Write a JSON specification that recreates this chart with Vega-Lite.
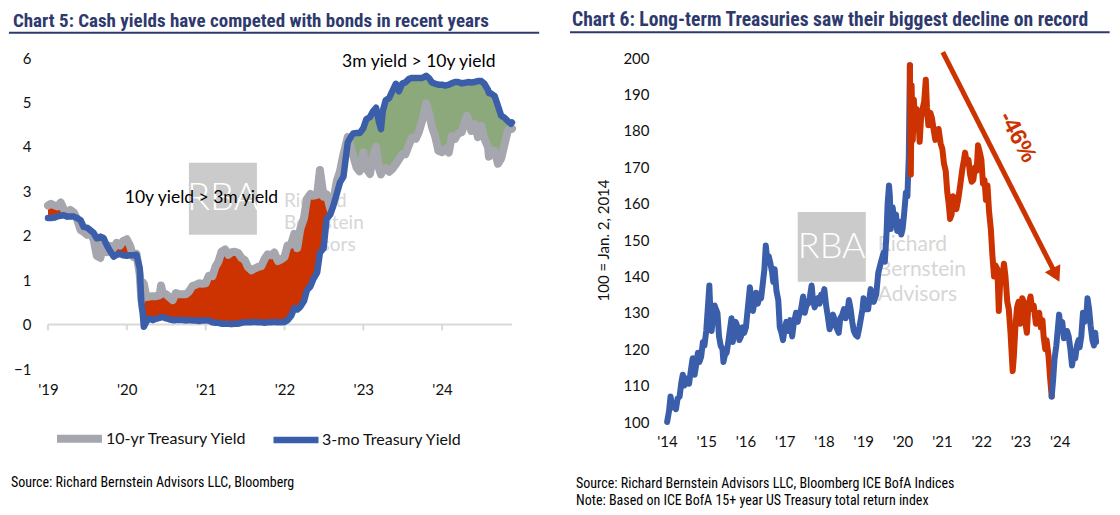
{
  "$schema": "https://vega.github.io/schema/vega-lite/v6.json",
  "background": "white",
  "padding": {"left": 7, "top": 9, "right": 0, "bottom": 0},
  "spacing": 28,
  "resolve": {"scale": {"color": "independent", "strokeWidth": "independent", "x": "independent", "y": "independent"}, "legend": {"color": "independent"}, "axis": {"x": "independent", "y": "independent"}},
  "config": {
    "view": {"stroke": null},
    "font": "Lato",
    "axis": {"grid": false, "ticks": false, "domain": false, "labelFont": "Lato", "labelFontSize": 15, "labelColor": "#111111", "labelOverlap": false},
    "title": {"font": "'Liberation Sans Narrow', 'Arial Narrow', 'Roboto Condensed', 'DejaVu Sans Condensed', 'Liberation Sans', sans-serif", "anchor": "start", "frame": "bounds"}
  },
  "datasets": {
    "yields": [
      {"d":"2019-01-01","t10":2.68,"t3m":2.40},{"d":"2019-01-15","t10":2.72,"t3m":2.40},{"d":"2019-02-01","t10":2.68,"t3m":2.41},{"d":"2019-02-15","t10":2.66,"t3m":2.44},
      {"d":"2019-03-01","t10":2.75,"t3m":2.45},{"d":"2019-03-15","t10":2.60,"t3m":2.46},{"d":"2019-04-01","t10":2.45,"t3m":2.43},{"d":"2019-04-15","t10":2.58,"t3m":2.43},
      {"d":"2019-05-01","t10":2.52,"t3m":2.43},{"d":"2019-05-15","t10":2.38,"t3m":2.40},{"d":"2019-06-01","t10":2.13,"t3m":2.35},{"d":"2019-06-15","t10":2.09,"t3m":2.20},
      {"d":"2019-07-01","t10":2.02,"t3m":2.18},{"d":"2019-07-15","t10":2.09,"t3m":2.13},{"d":"2019-08-01","t10":1.90,"t3m":2.06},{"d":"2019-08-15","t10":1.55,"t3m":1.94},
      {"d":"2019-09-01","t10":1.50,"t3m":1.98},{"d":"2019-09-15","t10":1.89,"t3m":1.95},{"d":"2019-10-01","t10":1.63,"t3m":1.78},{"d":"2019-10-15","t10":1.77,"t3m":1.66},
      {"d":"2019-11-01","t10":1.72,"t3m":1.53},{"d":"2019-11-15","t10":1.84,"t3m":1.57},{"d":"2019-12-01","t10":1.78,"t3m":1.59},{"d":"2019-12-15","t10":1.88,"t3m":1.56},
      {"d":"2020-01-01","t10":1.92,"t3m":1.55},{"d":"2020-01-15","t10":1.79,"t3m":1.56},{"d":"2020-02-01","t10":1.52,"t3m":1.56},{"d":"2020-02-15","t10":1.59,"t3m":1.57},
      {"d":"2020-03-01","t10":1.13,"t3m":1.27},{"d":"2020-03-09","t10":0.54,"t3m":0.45},{"d":"2020-03-15","t10":0.95,"t3m":0.25},{"d":"2020-03-20","t10":0.92,"t3m":-0.05},
      {"d":"2020-04-01","t10":0.62,"t3m":0.07},{"d":"2020-04-15","t10":0.63,"t3m":0.14},{"d":"2020-05-01","t10":0.64,"t3m":0.10},{"d":"2020-05-15","t10":0.64,"t3m":0.13},
      {"d":"2020-06-01","t10":0.66,"t3m":0.15},{"d":"2020-06-08","t10":0.88,"t3m":0.16},{"d":"2020-06-15","t10":0.72,"t3m":0.17},{"d":"2020-07-01","t10":0.68,"t3m":0.14},
      {"d":"2020-07-15","t10":0.62,"t3m":0.12},{"d":"2020-08-01","t10":0.55,"t3m":0.10},{"d":"2020-08-15","t10":0.71,"t3m":0.10},{"d":"2020-09-01","t10":0.68,"t3m":0.11},
      {"d":"2020-09-15","t10":0.68,"t3m":0.10},{"d":"2020-10-01","t10":0.68,"t3m":0.09},{"d":"2020-10-15","t10":0.74,"t3m":0.10},{"d":"2020-11-01","t10":0.87,"t3m":0.09},
      {"d":"2020-11-15","t10":0.89,"t3m":0.09},{"d":"2020-12-01","t10":0.93,"t3m":0.08},{"d":"2020-12-15","t10":0.92,"t3m":0.09},{"d":"2021-01-01","t10":0.93,"t3m":0.09},
      {"d":"2021-01-15","t10":1.10,"t3m":0.09},{"d":"2021-02-01","t10":1.09,"t3m":0.05},{"d":"2021-02-15","t10":1.30,"t3m":0.04},{"d":"2021-03-01","t10":1.42,"t3m":0.04},
      {"d":"2021-03-15","t10":1.64,"t3m":0.02},{"d":"2021-04-01","t10":1.69,"t3m":0.02},{"d":"2021-04-15","t10":1.57,"t3m":0.02},{"d":"2021-05-01","t10":1.63,"t3m":0.01},
      {"d":"2021-05-15","t10":1.64,"t3m":0.02},{"d":"2021-06-01","t10":1.61,"t3m":0.02},{"d":"2021-06-15","t10":1.50,"t3m":0.04},{"d":"2021-07-01","t10":1.45,"t3m":0.05},
      {"d":"2021-07-15","t10":1.30,"t3m":0.05},{"d":"2021-08-01","t10":1.22,"t3m":0.05},{"d":"2021-08-15","t10":1.26,"t3m":0.06},{"d":"2021-09-01","t10":1.30,"t3m":0.05},
      {"d":"2021-09-15","t10":1.31,"t3m":0.05},{"d":"2021-10-01","t10":1.48,"t3m":0.04},{"d":"2021-10-15","t10":1.58,"t3m":0.05},{"d":"2021-11-01","t10":1.56,"t3m":0.05},
      {"d":"2021-11-15","t10":1.62,"t3m":0.06},{"d":"2021-12-01","t10":1.43,"t3m":0.05},{"d":"2021-12-15","t10":1.46,"t3m":0.05},{"d":"2022-01-01","t10":1.52,"t3m":0.06},
      {"d":"2022-01-15","t10":1.78,"t3m":0.10},{"d":"2022-02-01","t10":1.80,"t3m":0.20},{"d":"2022-02-15","t10":2.04,"t3m":0.37},{"d":"2022-03-01","t10":1.72,"t3m":0.34},
      {"d":"2022-03-15","t10":2.15,"t3m":0.40},{"d":"2022-04-01","t10":2.39,"t3m":0.53},{"d":"2022-04-15","t10":2.83,"t3m":0.78},{"d":"2022-05-01","t10":2.94,"t3m":0.86},
      {"d":"2022-05-15","t10":2.90,"t3m":1.03},{"d":"2022-06-01","t10":2.92,"t3m":1.17},{"d":"2022-06-14","t10":3.48,"t3m":1.62},{"d":"2022-07-01","t10":2.88,"t3m":1.72},
      {"d":"2022-07-15","t10":2.93,"t3m":2.38},{"d":"2022-08-01","t10":2.60,"t3m":2.48},{"d":"2022-08-15","t10":2.79,"t3m":2.67},{"d":"2022-09-01","t10":3.25,"t3m":2.96},
      {"d":"2022-09-15","t10":3.45,"t3m":3.20},{"d":"2022-10-01","t10":3.83,"t3m":3.33},{"d":"2022-10-21","t10":4.22,"t3m":4.10},{"d":"2022-11-01","t10":4.05,"t3m":4.20},
      {"d":"2022-11-15","t10":3.80,"t3m":4.30},{"d":"2022-12-01","t10":3.53,"t3m":4.31},{"d":"2022-12-15","t10":3.45,"t3m":4.31},{"d":"2023-01-01","t10":3.88,"t3m":4.42},
      {"d":"2023-01-15","t10":3.51,"t3m":4.62},{"d":"2023-02-01","t10":3.39,"t3m":4.67},{"d":"2023-02-15","t10":3.80,"t3m":4.80},{"d":"2023-03-01","t10":4.00,"t3m":4.88},
      {"d":"2023-03-15","t10":3.51,"t3m":4.55},{"d":"2023-03-24","t10":3.38,"t3m":4.40},{"d":"2023-04-01","t10":3.48,"t3m":4.80},{"d":"2023-04-15","t10":3.52,"t3m":5.05},
      {"d":"2023-05-01","t10":3.44,"t3m":5.10},{"d":"2023-05-15","t10":3.50,"t3m":5.25},{"d":"2023-06-01","t10":3.61,"t3m":5.42},{"d":"2023-06-15","t10":3.72,"t3m":5.25},
      {"d":"2023-07-01","t10":3.84,"t3m":5.43},{"d":"2023-07-15","t10":3.83,"t3m":5.45},{"d":"2023-08-01","t10":4.05,"t3m":5.53},{"d":"2023-08-15","t10":4.21,"t3m":5.55},
      {"d":"2023-09-01","t10":4.18,"t3m":5.55},{"d":"2023-09-15","t10":4.33,"t3m":5.55},{"d":"2023-10-01","t10":4.59,"t3m":5.55},{"d":"2023-10-19","t10":4.98,"t3m":5.60},
      {"d":"2023-11-01","t10":4.77,"t3m":5.55},{"d":"2023-11-15","t10":4.45,"t3m":5.45},{"d":"2023-12-01","t10":4.22,"t3m":5.42},{"d":"2023-12-15","t10":3.91,"t3m":5.40},
      {"d":"2024-01-01","t10":3.88,"t3m":5.40},{"d":"2024-01-15","t10":3.96,"t3m":5.38},{"d":"2024-02-01","t10":3.87,"t3m":5.40},{"d":"2024-02-15","t10":4.24,"t3m":5.43},
      {"d":"2024-03-01","t10":4.18,"t3m":5.46},{"d":"2024-03-15","t10":4.30,"t3m":5.46},{"d":"2024-04-01","t10":4.33,"t3m":5.43},{"d":"2024-04-25","t10":4.70,"t3m":5.45},
      {"d":"2024-05-01","t10":4.63,"t3m":5.46},{"d":"2024-05-15","t10":4.36,"t3m":5.45},{"d":"2024-06-01","t10":4.51,"t3m":5.46},{"d":"2024-06-15","t10":4.22,"t3m":5.48},
      {"d":"2024-07-01","t10":4.47,"t3m":5.48},{"d":"2024-07-15","t10":4.19,"t3m":5.42},{"d":"2024-08-01","t10":3.99,"t3m":5.28},{"d":"2024-08-05","t10":3.78,"t3m":5.21},
      {"d":"2024-08-15","t10":3.92,"t3m":5.20},{"d":"2024-09-01","t10":3.91,"t3m":5.14},{"d":"2024-09-16","t10":3.62,"t3m":4.92},{"d":"2024-10-01","t10":3.74,"t3m":4.70},
      {"d":"2024-10-15","t10":4.03,"t3m":4.66},{"d":"2024-11-01","t10":4.37,"t3m":4.58},{"d":"2024-11-15","t10":4.43,"t3m":4.52},{"d":"2024-11-20","t10":4.41,"t3m":4.55}
    ],
    "tr": [
      {"d":"2014-01-02","v":100,"s":"a"},{"d":"2014-01-20","v":103,"s":"a"},{"d":"2014-02-03","v":107,"s":"a"},{"d":"2014-02-20","v":104,"s":"a"},
      {"d":"2014-03-10","v":105,"s":"a"},{"d":"2014-03-25","v":103.5,"s":"a"},{"d":"2014-04-10","v":106.5,"s":"a"},{"d":"2014-04-28","v":107,"s":"a"},
      {"d":"2014-05-15","v":111,"s":"a"},{"d":"2014-05-28","v":113,"s":"a"},{"d":"2014-06-10","v":110,"s":"a"},{"d":"2014-06-25","v":111.5,"s":"a"},
      {"d":"2014-07-10","v":112,"s":"a"},{"d":"2014-07-25","v":110.5,"s":"a"},{"d":"2014-08-10","v":114,"s":"a"},{"d":"2014-08-28","v":117.5,"s":"a"},
      {"d":"2014-09-15","v":113,"s":"a"},{"d":"2014-10-01","v":116,"s":"a"},{"d":"2014-10-15","v":119,"s":"a"},{"d":"2014-10-30","v":116.5,"s":"a"},
      {"d":"2014-11-15","v":118,"s":"a"},{"d":"2014-12-01","v":122,"s":"a"},{"d":"2014-12-15","v":121,"s":"a"},{"d":"2015-01-01","v":125,"s":"a"},
      {"d":"2015-01-15","v":131,"s":"a"},{"d":"2015-01-30","v":137.5,"s":"a"},{"d":"2015-02-10","v":129,"s":"a"},{"d":"2015-02-20","v":125,"s":"a"},
      {"d":"2015-03-05","v":129,"s":"a"},{"d":"2015-03-20","v":132,"s":"a"},{"d":"2015-04-01","v":131,"s":"a"},{"d":"2015-04-15","v":130,"s":"a"},
      {"d":"2015-04-30","v":123.5,"s":"a"},{"d":"2015-05-15","v":121,"s":"a"},{"d":"2015-06-01","v":120,"s":"a"},{"d":"2015-06-10","v":116.5,"s":"a"},
      {"d":"2015-06-25","v":118.5,"s":"a"},{"d":"2015-07-10","v":119,"s":"a"},{"d":"2015-07-25","v":122,"s":"a"},{"d":"2015-08-24","v":128.5,"s":"a"},
      {"d":"2015-09-05","v":122,"s":"a"},{"d":"2015-09-20","v":125.5,"s":"a"},{"d":"2015-10-02","v":127.5,"s":"a"},{"d":"2015-10-20","v":126,"s":"a"},
      {"d":"2015-11-05","v":122.5,"s":"a"},{"d":"2015-11-20","v":123.5,"s":"a"},{"d":"2015-12-05","v":126,"s":"a"},{"d":"2015-12-20","v":124.5,"s":"a"},
      {"d":"2016-01-05","v":126,"s":"a"},{"d":"2016-01-20","v":130.5,"s":"a"},{"d":"2016-02-11","v":137,"s":"a"},{"d":"2016-02-25","v":134,"s":"a"},
      {"d":"2016-03-10","v":130.5,"s":"a"},{"d":"2016-03-25","v":133,"s":"a"},{"d":"2016-04-10","v":135.5,"s":"a"},{"d":"2016-04-25","v":132.5,"s":"a"},
      {"d":"2016-05-10","v":134.5,"s":"a"},{"d":"2016-05-25","v":134,"s":"a"},{"d":"2016-06-10","v":138,"s":"a"},{"d":"2016-06-25","v":142,"s":"a"},
      {"d":"2016-07-08","v":148.5,"s":"a"},{"d":"2016-07-20","v":145,"s":"a"},{"d":"2016-08-05","v":145.5,"s":"a"},{"d":"2016-08-20","v":143.5,"s":"a"},
      {"d":"2016-09-05","v":141,"s":"a"},{"d":"2016-09-15","v":138.5,"s":"a"},{"d":"2016-09-28","v":142,"s":"a"},{"d":"2016-10-15","v":136,"s":"a"},
      {"d":"2016-11-01","v":133.5,"s":"a"},{"d":"2016-11-15","v":126,"s":"a"},{"d":"2016-12-01","v":124.5,"s":"a"},{"d":"2016-12-15","v":122.5,"s":"a"},
      {"d":"2016-12-30","v":125.5,"s":"a"},{"d":"2017-01-15","v":127.5,"s":"a"},{"d":"2017-02-01","v":125,"s":"a"},{"d":"2017-02-20","v":128,"s":"a"},
      {"d":"2017-03-10","v":123.5,"s":"a"},{"d":"2017-03-25","v":127,"s":"a"},{"d":"2017-04-15","v":130,"s":"a"},{"d":"2017-05-01","v":127.5,"s":"a"},
      {"d":"2017-05-15","v":129.5,"s":"a"},{"d":"2017-06-01","v":131,"s":"a"},{"d":"2017-06-20","v":134.5,"s":"a"},{"d":"2017-07-05","v":130,"s":"a"},
      {"d":"2017-07-20","v":132,"s":"a"},{"d":"2017-08-05","v":132.5,"s":"a"},{"d":"2017-08-20","v":134,"s":"a"},{"d":"2017-09-07","v":137.5,"s":"a"},
      {"d":"2017-09-20","v":133.5,"s":"a"},{"d":"2017-10-05","v":131.5,"s":"a"},{"d":"2017-10-20","v":133,"s":"a"},{"d":"2017-11-05","v":134,"s":"a"},
      {"d":"2017-11-20","v":132.5,"s":"a"},{"d":"2017-12-05","v":135,"s":"a"},{"d":"2017-12-20","v":134,"s":"a"},{"d":"2018-01-03","v":136.5,"s":"a"},
      {"d":"2018-01-20","v":132,"s":"a"},{"d":"2018-02-05","v":129,"s":"a"},{"d":"2018-02-21","v":125.5,"s":"a"},{"d":"2018-03-10","v":127,"s":"a"},
      {"d":"2018-03-25","v":129.5,"s":"a"},{"d":"2018-04-10","v":128,"s":"a"},{"d":"2018-04-25","v":126,"s":"a"},{"d":"2018-05-17","v":124.5,"s":"a"},
      {"d":"2018-06-01","v":128.5,"s":"a"},{"d":"2018-06-20","v":129.5,"s":"a"},{"d":"2018-07-05","v":131,"s":"a"},{"d":"2018-07-20","v":128.5,"s":"a"},
      {"d":"2018-08-05","v":130,"s":"a"},{"d":"2018-08-20","v":133.5,"s":"a"},{"d":"2018-09-05","v":131,"s":"a"},{"d":"2018-09-20","v":127.5,"s":"a"},
      {"d":"2018-10-05","v":125,"s":"a"},{"d":"2018-10-20","v":124,"s":"a"},{"d":"2018-11-08","v":123.5,"s":"a"},{"d":"2018-11-25","v":126,"s":"a"},
      {"d":"2018-12-10","v":128.5,"s":"a"},{"d":"2018-12-24","v":131,"s":"a"},{"d":"2019-01-03","v":134,"s":"a"},{"d":"2019-01-20","v":131,"s":"a"},
      {"d":"2019-02-15","v":131,"s":"a"},{"d":"2019-03-10","v":136.5,"s":"a"},{"d":"2019-04-08","v":133,"s":"a"},{"d":"2019-05-01","v":135,"s":"a"},
      {"d":"2019-05-20","v":141,"s":"a"},{"d":"2019-06-15","v":144,"s":"a"},{"d":"2019-07-08","v":146.5,"s":"a"},{"d":"2019-07-20","v":144,"s":"a"},
      {"d":"2019-08-05","v":152,"s":"a"},{"d":"2019-08-15","v":160,"s":"a"},{"d":"2019-08-28","v":165,"s":"a"},{"d":"2019-09-05","v":162,"s":"a"},
      {"d":"2019-09-13","v":153,"s":"a"},{"d":"2019-10-01","v":159,"s":"a"},{"d":"2019-10-15","v":155.5,"s":"a"},{"d":"2019-11-01","v":157,"s":"a"},
      {"d":"2019-11-12","v":152.5,"s":"a"},{"d":"2019-12-01","v":155,"s":"a"},{"d":"2019-12-20","v":151.5,"s":"a"},{"d":"2020-01-01","v":153,"s":"a"},
      {"d":"2020-01-15","v":157,"s":"a"},{"d":"2020-02-01","v":163,"s":"a"},{"d":"2020-02-15","v":162,"s":"a"},{"d":"2020-02-28","v":173,"s":"a"},
      {"d":"2020-03-09","v":198,"s":"a"},
      {"d":"2020-03-09","v":198,"s":"b"},{"d":"2020-03-18","v":168,"s":"b"},{"d":"2020-03-25","v":192.5,"s":"b"},{"d":"2020-04-05","v":177.5,"s":"b"},
      {"d":"2020-04-15","v":188.5,"s":"b"},{"d":"2020-04-25","v":183,"s":"b"},{"d":"2020-05-10","v":186,"s":"b"},{"d":"2020-05-25","v":184,"s":"b"},
      {"d":"2020-06-08","v":177,"s":"b"},{"d":"2020-06-20","v":183,"s":"b"},{"d":"2020-07-05","v":186,"s":"b"},{"d":"2020-07-20","v":188,"s":"b"},
      {"d":"2020-08-04","v":194,"s":"b"},{"d":"2020-08-15","v":186.5,"s":"b"},{"d":"2020-08-28","v":181.5,"s":"b"},{"d":"2020-09-15","v":185,"s":"b"},
      {"d":"2020-09-30","v":183.5,"s":"b"},{"d":"2020-10-15","v":180.5,"s":"b"},{"d":"2020-11-01","v":177.5,"s":"b"},{"d":"2020-11-15","v":178.5,"s":"b"},
      {"d":"2020-12-01","v":180.5,"s":"b"},{"d":"2020-12-20","v":176.5,"s":"b"},{"d":"2021-01-05","v":175,"s":"b"},{"d":"2021-01-20","v":171,"s":"b"},
      {"d":"2021-02-05","v":169,"s":"b"},{"d":"2021-02-20","v":163,"s":"b"},{"d":"2021-03-05","v":160,"s":"b"},{"d":"2021-03-18","v":155.8,"s":"b"},
      {"d":"2021-04-01","v":157,"s":"b"},{"d":"2021-04-15","v":162,"s":"b"},{"d":"2021-05-01","v":159,"s":"b"},{"d":"2021-05-15","v":158.5,"s":"b"},
      {"d":"2021-06-01","v":161,"s":"b"},{"d":"2021-06-20","v":165,"s":"b"},{"d":"2021-07-10","v":169.5,"s":"b"},{"d":"2021-07-25","v":172,"s":"b"},
      {"d":"2021-08-04","v":174,"s":"b"},{"d":"2021-08-20","v":171.5,"s":"b"},{"d":"2021-09-05","v":172,"s":"b"},{"d":"2021-09-20","v":168,"s":"b"},
      {"d":"2021-10-05","v":166,"s":"b"},{"d":"2021-10-20","v":166.5,"s":"b"},{"d":"2021-11-05","v":170,"s":"b"},{"d":"2021-11-20","v":169,"s":"b"},
      {"d":"2021-12-03","v":176,"s":"b"},{"d":"2021-12-20","v":174,"s":"b"},{"d":"2022-01-03","v":172,"s":"b"},{"d":"2022-01-18","v":165.5,"s":"b"},
      {"d":"2022-02-01","v":166.5,"s":"b"},{"d":"2022-02-15","v":161,"s":"b"},{"d":"2022-03-01","v":165,"s":"b"},{"d":"2022-03-15","v":158,"s":"b"},
      {"d":"2022-04-01","v":153,"s":"b"},{"d":"2022-04-15","v":146,"s":"b"},{"d":"2022-05-01","v":140,"s":"b"},{"d":"2022-05-15","v":143,"s":"b"},
      {"d":"2022-06-01","v":142,"s":"b"},{"d":"2022-06-14","v":130.5,"s":"b"},{"d":"2022-07-01","v":141,"s":"b"},{"d":"2022-07-15","v":139,"s":"b"},
      {"d":"2022-08-01","v":143.5,"s":"b"},{"d":"2022-08-15","v":140,"s":"b"},{"d":"2022-09-01","v":133,"s":"b"},{"d":"2022-09-15","v":131,"s":"b"},
      {"d":"2022-10-01","v":124.5,"s":"b"},{"d":"2022-10-21","v":114,"s":"b"},{"d":"2022-11-01","v":118,"s":"b"},{"d":"2022-11-15","v":126,"s":"b"},
      {"d":"2022-12-01","v":131.5,"s":"b"},{"d":"2022-12-15","v":133,"s":"b"},{"d":"2022-12-30","v":127,"s":"b"},{"d":"2023-01-18","v":134,"s":"b"},
      {"d":"2023-02-01","v":133,"s":"b"},{"d":"2023-02-20","v":126.5,"s":"b"},{"d":"2023-03-02","v":124.5,"s":"b"},{"d":"2023-03-15","v":131.5,"s":"b"},
      {"d":"2023-04-05","v":134.5,"s":"b"},{"d":"2023-04-20","v":131,"s":"b"},{"d":"2023-05-05","v":132,"s":"b"},{"d":"2023-05-25","v":127,"s":"b"},
      {"d":"2023-06-10","v":129,"s":"b"},{"d":"2023-06-25","v":130,"s":"b"},{"d":"2023-07-10","v":126,"s":"b"},{"d":"2023-07-25","v":128,"s":"b"},
      {"d":"2023-08-05","v":123.5,"s":"b"},{"d":"2023-08-20","v":120,"s":"b"},{"d":"2023-09-01","v":122.5,"s":"b"},{"d":"2023-09-20","v":118,"s":"b"},
      {"d":"2023-10-03","v":112.5,"s":"b"},{"d":"2023-10-19","v":107,"s":"b"},
      {"d":"2023-10-19","v":107,"s":"c"},{"d":"2023-11-01","v":111.5,"s":"c"},{"d":"2023-11-15","v":117.5,"s":"c"},{"d":"2023-12-01","v":121,"s":"c"},
      {"d":"2023-12-27","v":129.5,"s":"c"},{"d":"2024-01-10","v":125.5,"s":"c"},{"d":"2024-01-25","v":127.5,"s":"c"},{"d":"2024-02-10","v":123,"s":"c"},
      {"d":"2024-02-25","v":123.5,"s":"c"},{"d":"2024-03-10","v":125,"s":"c"},{"d":"2024-03-25","v":123.5,"s":"c"},{"d":"2024-04-10","v":120,"s":"c"},
      {"d":"2024-04-25","v":115.5,"s":"c"},{"d":"2024-05-10","v":118.5,"s":"c"},{"d":"2024-05-25","v":117.5,"s":"c"},{"d":"2024-06-10","v":121,"s":"c"},
      {"d":"2024-06-25","v":122.5,"s":"c"},{"d":"2024-07-05","v":120.5,"s":"c"},{"d":"2024-07-20","v":123.5,"s":"c"},{"d":"2024-08-05","v":130,"s":"c"},
      {"d":"2024-08-20","v":127.5,"s":"c"},{"d":"2024-09-05","v":129,"s":"c"},{"d":"2024-09-16","v":134,"s":"c"},{"d":"2024-10-01","v":131,"s":"c"},
      {"d":"2024-10-15","v":126.5,"s":"c"},{"d":"2024-11-01","v":122.5,"s":"c"},{"d":"2024-11-15","v":121,"s":"c"},{"d":"2024-11-27","v":124.5,"s":"c"},
      {"d":"2024-12-05","v":122,"s":"c"}
    ]
  },
  "hconcat": [
    {
      "width": 464, "height": 311,
      "title": {"text": "Chart 5: Cash yields have competed with bonds in recent years", "fontSize": 19, "fontWeight": "bold", "color": "#2E3A6E", "offset": 1, "dx": 5},
      "layer": [
        {
          "data": {"values": [{}]},
          "mark": {"type": "rule", "color": "#2E3A6E", "strokeWidth": 2},
          "encoding": {
            "x": {"datum": {"year": 2018, "month": 7, "date": 4, "utc": true}, "type": "temporal", "scale": {"type": "utc"}},
            "x2": {"datum": {"year": 2025, "month": 3, "date": 26, "utc": true}},
            "y": {"datum": 6.57}
          }
        },
        {
          "data": {"values": [{}]},
          "mark": {"type": "rect", "color": "#CBCBCB"},
          "encoding": {
            "x": {"datum": {"year": 2020, "month": 10, "date": 15, "utc": true}, "type": "temporal", "scale": {"type": "utc"}},
            "x2": {"datum": {"year": 2021, "month": 8, "date": 26, "utc": true}},
            "y": {"datum": 3.64}, "y2": {"datum": 2.02}
          }
        },
        {
          "data": {"values": [{}]},
          "mark": {"type": "text", "text": "RBA", "font": "Lato", "fontWeight": 300, "fontSize": 38, "color": "#FFFFFF", "align": "center", "baseline": "middle"},
          "encoding": {
            "x": {"datum": {"year": 2021, "month": 3, "date": 21, "utc": true}, "type": "temporal", "scale": {"type": "utc"}},
            "y": {"datum": 2.83}
          }
        },
        {
          "data": {"values": [{}]},
          "mark": {"type": "text", "text": ["Richard", "Bernstein", "Advisors"], "lineHeight": 22, "font": "Lato", "fontSize": 19, "color": "#D6D6D6", "align": "left", "baseline": "middle"},
          "encoding": {
            "x": {"datum": {"year": 2021, "month": 12, "date": 29, "utc": true}, "type": "temporal", "scale": {"type": "utc"}},
            "y": {"datum": 2.79}
          }
        },
        {
          "data": {"values": [{"t": "2019-01-01"}, {"t": "2020-01-01"}, {"t": "2021-01-01"}, {"t": "2022-01-01"}, {"t": "2023-01-01"}, {"t": "2024-01-01"}]},
          "mark": {"type": "rule", "color": "#D9D9D9", "strokeWidth": 2},
          "encoding": {
            "x": {"field": "t", "type": "temporal", "scale": {"type": "utc"}, "axis": {"title": null}},
            "y": {"datum": 0}, "y2": {"datum": -0.13}
          }
        },
        {
          "data": {"values": [{}]},
          "mark": {"type": "rule", "color": "#D9D9D9", "strokeWidth": 2},
          "encoding": {"y": {"datum": 0}}
        },
        {
          "data": {"name": "yields"},
          "mark": {"type": "area", "color": "#CC3300", "opacity": 1},
          "encoding": {
            "x": {"field": "d", "type": "temporal",
              "scale": {"type": "utc", "domain": [{"year": 2019, "month": 1, "date": 1, "utc": true}, {"year": 2024, "month": 11, "date": 20, "utc": true}]},
              "axis": {"title": null, "format": "'%y", "labelPadding": 13, "labelFlush": false, "tickCount": 12,
                "values": [{"year": 2019, "month": 1, "date": 1, "utc": true}, {"year": 2020, "month": 1, "date": 1, "utc": true}, {"year": 2021, "month": 1, "date": 1, "utc": true}, {"year": 2022, "month": 1, "date": 1, "utc": true}, {"year": 2023, "month": 1, "date": 1, "utc": true}, {"year": 2024, "month": 1, "date": 1, "utc": true}]}},
            "y": {"field": "t10", "type": "quantitative", "scale": {"domain": [-1, 6], "zero": false, "nice": false},
              "axis": {"title": null, "values": [-1, 0, 1, 2, 3, 4, 5, 6], "tickCount": 10, "format": "d", "labelPadding": 17}},
            "y2": {"field": "t3m"}
          }
        },
        {
          "data": {"name": "yields"},
          "transform": [{"filter": "time(datum.d) >= utc(2019, 4, 15) && time(datum.d) <= utc(2019, 9, 1)"}],
          "mark": {"type": "area", "color": "#8CA97B", "opacity": 1},
          "encoding": {
            "x": {"field": "d", "type": "temporal", "axis": {"title": null}},
            "y": {"field": "t10", "type": "quantitative", "axis": {"title": null}},
            "y2": {"field": "t3m"}
          }
        },
        {
          "data": {"name": "yields"},
          "transform": [{"filter": "time(datum.d) >= utc(2022, 10, 1)"}],
          "mark": {"type": "area", "color": "#8CA97B", "opacity": 1},
          "encoding": {
            "x": {"field": "d", "type": "temporal", "axis": {"title": null}},
            "y": {"field": "t10", "type": "quantitative", "axis": {"title": null}},
            "y2": {"field": "t3m"}
          }
        },
        {
          "data": {"name": "yields"},
          "transform": [{"fold": ["t10", "t3m"], "as": ["series", "val"]}],
          "mark": {"type": "line", "strokeCap": "round", "strokeJoin": "round"},
          "encoding": {
            "x": {"field": "d", "type": "temporal", "axis": {"title": null}},
            "y": {"field": "val", "type": "quantitative", "axis": {"title": null}},
            "color": {"field": "series", "type": "nominal",
              "scale": {"domain": ["t10", "t3m"], "range": ["#A5A6AE", "#3B5EAB"]},
              "legend": {"orient": "none", "legendX": 5, "legendY": 354, "direction": "horizontal", "title": null,
                "symbolType": "stroke", "symbolSize": 2025, "symbolStrokeWidth": 7,
                "labelFont": "Lato", "labelFontSize": 16, "labelColor": "#111111", "labelOffset": 0, "columnPadding": 12, "labelLimit": 300,
                "labelExpr": "datum.label == 't10' ? '10-yr Treasury Yield' : '3-mo Treasury Yield'"}},
            "strokeWidth": {"field": "series", "type": "ordinal", "scale": {"domain": ["t10", "t3m"], "range": [8, 6.5]}, "legend": null}
          }
        },
        {
          "data": {"values": [{}]},
          "mark": {"type": "text", "text": "3m yield > 10y yield", "font": "Lato", "fontSize": 17.5, "color": "#000000", "align": "center", "baseline": "middle"},
          "encoding": {
            "x": {"datum": {"year": 2023, "month": 9, "date": 15, "utc": true}, "type": "temporal", "scale": {"type": "utc"}},
            "y": {"datum": 5.92}
          }
        },
        {
          "data": {"values": [{}]},
          "mark": {"type": "text", "text": "10y yield > 3m yield", "font": "Lato", "fontSize": 17.5, "color": "#000000", "align": "center", "baseline": "middle"},
          "encoding": {
            "x": {"datum": {"year": 2020, "month": 12, "date": 12, "utc": true}, "type": "temporal", "scale": {"type": "utc"}},
            "y": {"datum": 2.85}
          }
        },
        {
          "data": {"values": [{}]},
          "mark": {"type": "text", "text": "Source: Richard Bernstein Advisors LLC, Bloomberg", "font": "'Liberation Sans Narrow', 'Arial Narrow', 'Roboto Condensed', 'DejaVu Sans Condensed', 'Liberation Sans', sans-serif", "fontSize": 14, "color": "#000000", "align": "left", "baseline": "middle"},
          "encoding": {
            "x": {"datum": {"year": 2018, "month": 7, "date": 13, "utc": true}, "type": "temporal", "scale": {"type": "utc"}},
            "y": {"datum": -3.565}
          }
        }
      ]
    },
    {
      "width": 432, "height": 364,
      "title": {"text": "Chart 6: Long-term Treasuries saw their biggest decline on record", "fontSize": 19.6, "fontWeight": "bold", "color": "#2E3A6E", "offset": 1, "dx": 3},
      "layer": [
        {
          "data": {"values": [{}]},
          "mark": {"type": "rule", "color": "#2E3A6E", "strokeWidth": 2},
          "encoding": {
            "x": {"datum": {"year": 2011, "month": 7, "date": 14, "utc": true}, "type": "temporal", "scale": {"type": "utc"}},
            "x2": {"datum": {"year": 2025, "month": 4, "date": 10, "utc": true}},
            "y": {"datum": 207.1}
          }
        },
        {
          "data": {"values": [{}]},
          "mark": {"type": "rect", "color": "#CBCBCB"},
          "encoding": {
            "x": {"datum": {"year": 2017, "month": 5, "date": 1, "utc": true}, "type": "temporal", "scale": {"type": "utc"}},
            "x2": {"datum": {"year": 2019, "month": 1, "date": 24, "utc": true}},
            "y": {"datum": 157.7}, "y2": {"datum": 138.5}
          }
        },
        {
          "data": {"values": [{}]},
          "mark": {"type": "text", "text": "RBA", "font": "Lato", "fontWeight": 300, "fontSize": 36, "color": "#FFFFFF", "align": "center", "baseline": "middle"},
          "encoding": {
            "x": {"datum": {"year": 2018, "month": 3, "date": 13, "utc": true}, "type": "temporal", "scale": {"type": "utc"}},
            "y": {"datum": 148}
          }
        },
        {
          "data": {"values": [{}]},
          "mark": {"type": "text", "text": ["Richard", "Bernstein", "Advisors"], "lineHeight": 25, "font": "Lato", "fontSize": 21, "color": "#D6D6D6", "align": "left", "baseline": "middle"},
          "encoding": {
            "x": {"datum": {"year": 2019, "month": 5, "date": 15, "utc": true}, "type": "temporal", "scale": {"type": "utc"}},
            "y": {"datum": 148.6}
          }
        },
        {
          "data": {"name": "tr"},
          "mark": {"type": "line", "strokeWidth": 6, "strokeCap": "round", "strokeJoin": "round"},
          "encoding": {
            "x": {"field": "d", "type": "temporal",
              "scale": {"type": "utc", "domain": [{"year": 2014, "month": 1, "date": 1, "utc": true}, {"year": 2025, "month": 1, "date": 1, "utc": true}]},
              "axis": {"title": null, "format": "'%y", "labelPadding": 12, "labelFlush": false, "tickCount": 14,
                "values": [{"year": 2014, "month": 1, "date": 1, "utc": true}, {"year": 2015, "month": 1, "date": 1, "utc": true}, {"year": 2016, "month": 1, "date": 1, "utc": true}, {"year": 2017, "month": 1, "date": 1, "utc": true}, {"year": 2018, "month": 1, "date": 1, "utc": true}, {"year": 2019, "month": 1, "date": 1, "utc": true}, {"year": 2020, "month": 1, "date": 1, "utc": true}, {"year": 2021, "month": 1, "date": 1, "utc": true}, {"year": 2022, "month": 1, "date": 1, "utc": true}, {"year": 2023, "month": 1, "date": 1, "utc": true}, {"year": 2024, "month": 1, "date": 1, "utc": true}]}},
            "y": {"field": "v", "type": "quantitative", "scale": {"domain": [100, 200], "zero": false, "nice": false},
              "axis": {"title": "100 = Jan. 2, 2014", "values": [100, 110, 120, 130, 140, 150, 160, 170, 180, 190, 200], "tickCount": 14, "format": "d", "labelPadding": 18, "labelOverlap": false,
                "titleX": -64, "titleBaseline": "middle", "titleFont": "Lato", "titleFontSize": 15, "titleFontWeight": "normal", "titleColor": "#111111"}},
            "color": {"field": "s", "type": "nominal", "scale": {"domain": ["a", "b", "c"], "range": ["#3B5EAB", "#CC3300", "#3B5EAB"]}, "legend": null}
          }
        },
        {
          "data": {"values": [{}]},
          "mark": {"type": "rule", "color": "#CC3300", "strokeWidth": 5},
          "encoding": {
            "x": {"datum": {"year": 2021, "month": 1, "date": 9, "utc": true}, "type": "temporal", "scale": {"type": "utc"}},
            "x2": {"datum": {"year": 2023, "month": 11, "date": 28, "utc": true}},
            "y": {"datum": 201.6}, "y2": {"datum": 140.4}
          }
        },
        {
          "data": {"values": [{}]},
          "mark": {"type": "point", "shape": "triangle-down", "filled": true, "color": "#CC3300", "opacity": 1, "size": 300, "angle": 333},
          "encoding": {
            "x": {"datum": {"year": 2023, "month": 11, "date": 28, "utc": true}, "type": "temporal", "scale": {"type": "utc"}},
            "y": {"datum": 140.4}
          }
        },
        {
          "data": {"values": [{}]},
          "mark": {"type": "text", "text": "-46%", "font": "Liberation Sans", "fontWeight": "bold", "fontSize": 23, "color": "#CC3300", "angle": 62, "align": "center", "baseline": "middle"},
          "encoding": {
            "x": {"datum": {"year": 2022, "month": 12, "date": 6, "utc": true}, "type": "temporal", "scale": {"type": "utc"}},
            "y": {"datum": 178.3}
          }
        },
        {
          "data": {"values": [{}]},
          "mark": {"type": "text", "text": ["Source: Richard Bernstein Advisors LLC, Bloomberg ICE BofA Indices", "Note: Based on ICE BofA 15+ year US Treasury total return index"], "lineHeight": 17, "font": "'Liberation Sans Narrow', 'Arial Narrow', 'Roboto Condensed', 'DejaVu Sans Condensed', 'Liberation Sans', sans-serif", "fontSize": 14, "color": "#000000", "align": "left", "baseline": "middle"},
          "encoding": {
            "x": {"datum": {"year": 2011, "month": 9, "date": 8, "utc": true}, "type": "temporal", "scale": {"type": "utc"}},
            "y": {"datum": 83.1}
          }
        }
      ]
    }
  ]
}
